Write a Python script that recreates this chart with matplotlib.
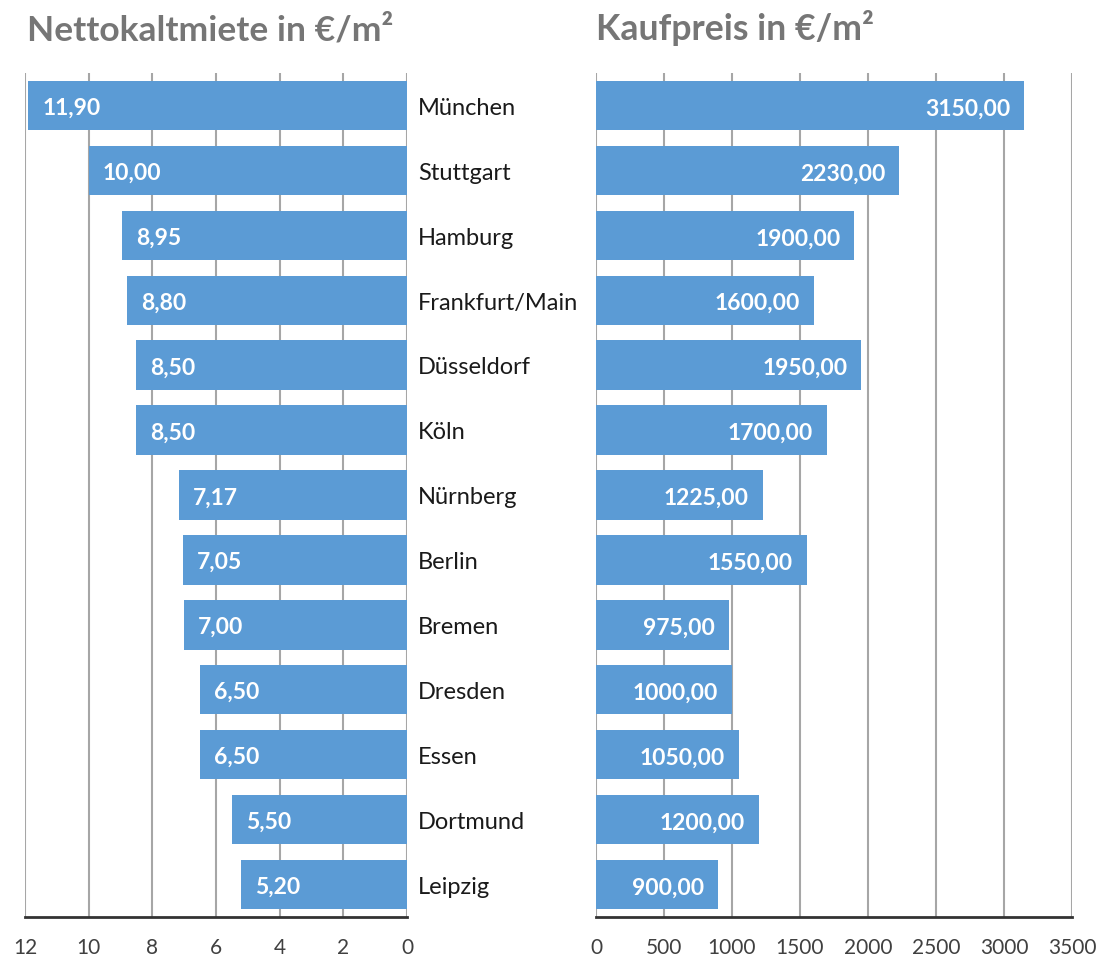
import matplotlib
matplotlib.use("Agg")
import matplotlib.pyplot as plt
from matplotlib.transforms import blended_transform_factory, offset_copy

cities = ["München", "Stuttgart", "Hamburg", "Frankfurt/Main", "Düsseldorf", "Köln",
          "Nürnberg", "Berlin", "Bremen", "Dresden", "Essen", "Dortmund", "Leipzig"]
rent = [11.90, 10.00, 8.95, 8.80, 8.50, 8.50, 7.17, 7.05, 7.00, 6.50, 6.50, 5.50, 5.20]
price = [3150, 2230, 1900, 1600, 1950, 1700, 1225, 1550, 975, 1000, 1050, 1200, 900]
rent_ticks = [12, 10, 8, 6, 4, 2, 0]
price_ticks = [0, 500, 1000, 1500, 2000, 2500, 3000, 3500]
title_left = "Nettokaltmiete in €/m²"
title_right = "Kaufpreis in €/m²"

plt.rcParams['font.family'] = ['Lato', 'DejaVu Sans']

BAR = "#5b9bd5"
GRID = "#a6a6a6"
TXT = "#404040"
TITLE = "#767676"

fig = plt.figure(figsize=(11, 9.58), dpi=100)
W, H = 1100, 958
ax1 = fig.add_axes([25 / W, 1 - 917 / H, (407 - 25) / W, (917 - 73) / H])
ax2 = fig.add_axes([596 / W, 1 - 917 / H, (1072 - 596) / W, (917 - 73) / H])

n = len(cities)
ypos = list(range(n))

def fmt(v):
    return f"{v:.2f}".replace(".", ",")

for ax, vals, ticks, lim in ((ax1, rent, rent_ticks, (12, 0)), (ax2, price, price_ticks, (0, 3500))):
    ax.barh(ypos, vals, height=0.76, color=BAR, zorder=2)
    ax.set_xlim(*lim)
    ax.set_ylim(n - 0.5, -0.5)
    ax.set_xticks(ticks)
    ax.set_xticklabels([str(t) for t in ticks])
    ax.set_yticks([])
    for t in ticks:
        ax.axvline(t, color=GRID, lw=1.5, zorder=1)
    for s in ("top", "left", "right"):
        ax.spines[s].set_visible(False)
    ax.spines["bottom"].set_color("#333333")
    ax.spines["bottom"].set_linewidth(2)
    ax.spines["bottom"].set_zorder(3)
    ax.tick_params(axis="x", length=0, pad=15, labelsize=15, labelcolor=TXT)

# value labels
for i, v in enumerate(rent):
    ax1.annotate(fmt(v), (v, i), xytext=(10, -2), textcoords="offset points",
                 ha="left", va="center", color="white", fontsize=16.5, fontweight="bold", zorder=4)
for i, v in enumerate(price):
    ax2.annotate(fmt(v), (v, i), xytext=(-10, -2.5), textcoords="offset points",
                 ha="right", va="center", color="white", fontsize=16.5, fontweight="bold", zorder=4)

# category labels
tr = offset_copy(blended_transform_factory(fig.transFigure, ax1.transData), fig=fig, y=-2, units="points")
for i, c in enumerate(cities):
    fig.text(418 / W, i, c, transform=tr, ha="left", va="center", fontsize=17, color="#1a1a1a")

fig.text(27 / W, 1 - 40 / H, title_left, ha="left", va="baseline", fontsize=25.5,
         fontweight="bold", color=TITLE)
fig.text(596 / W, 1 - 40 / H, title_right, ha="left", va="baseline", fontsize=25.7,
         fontweight="bold", color=TITLE)

fig.savefig("out.png", dpi=100)
